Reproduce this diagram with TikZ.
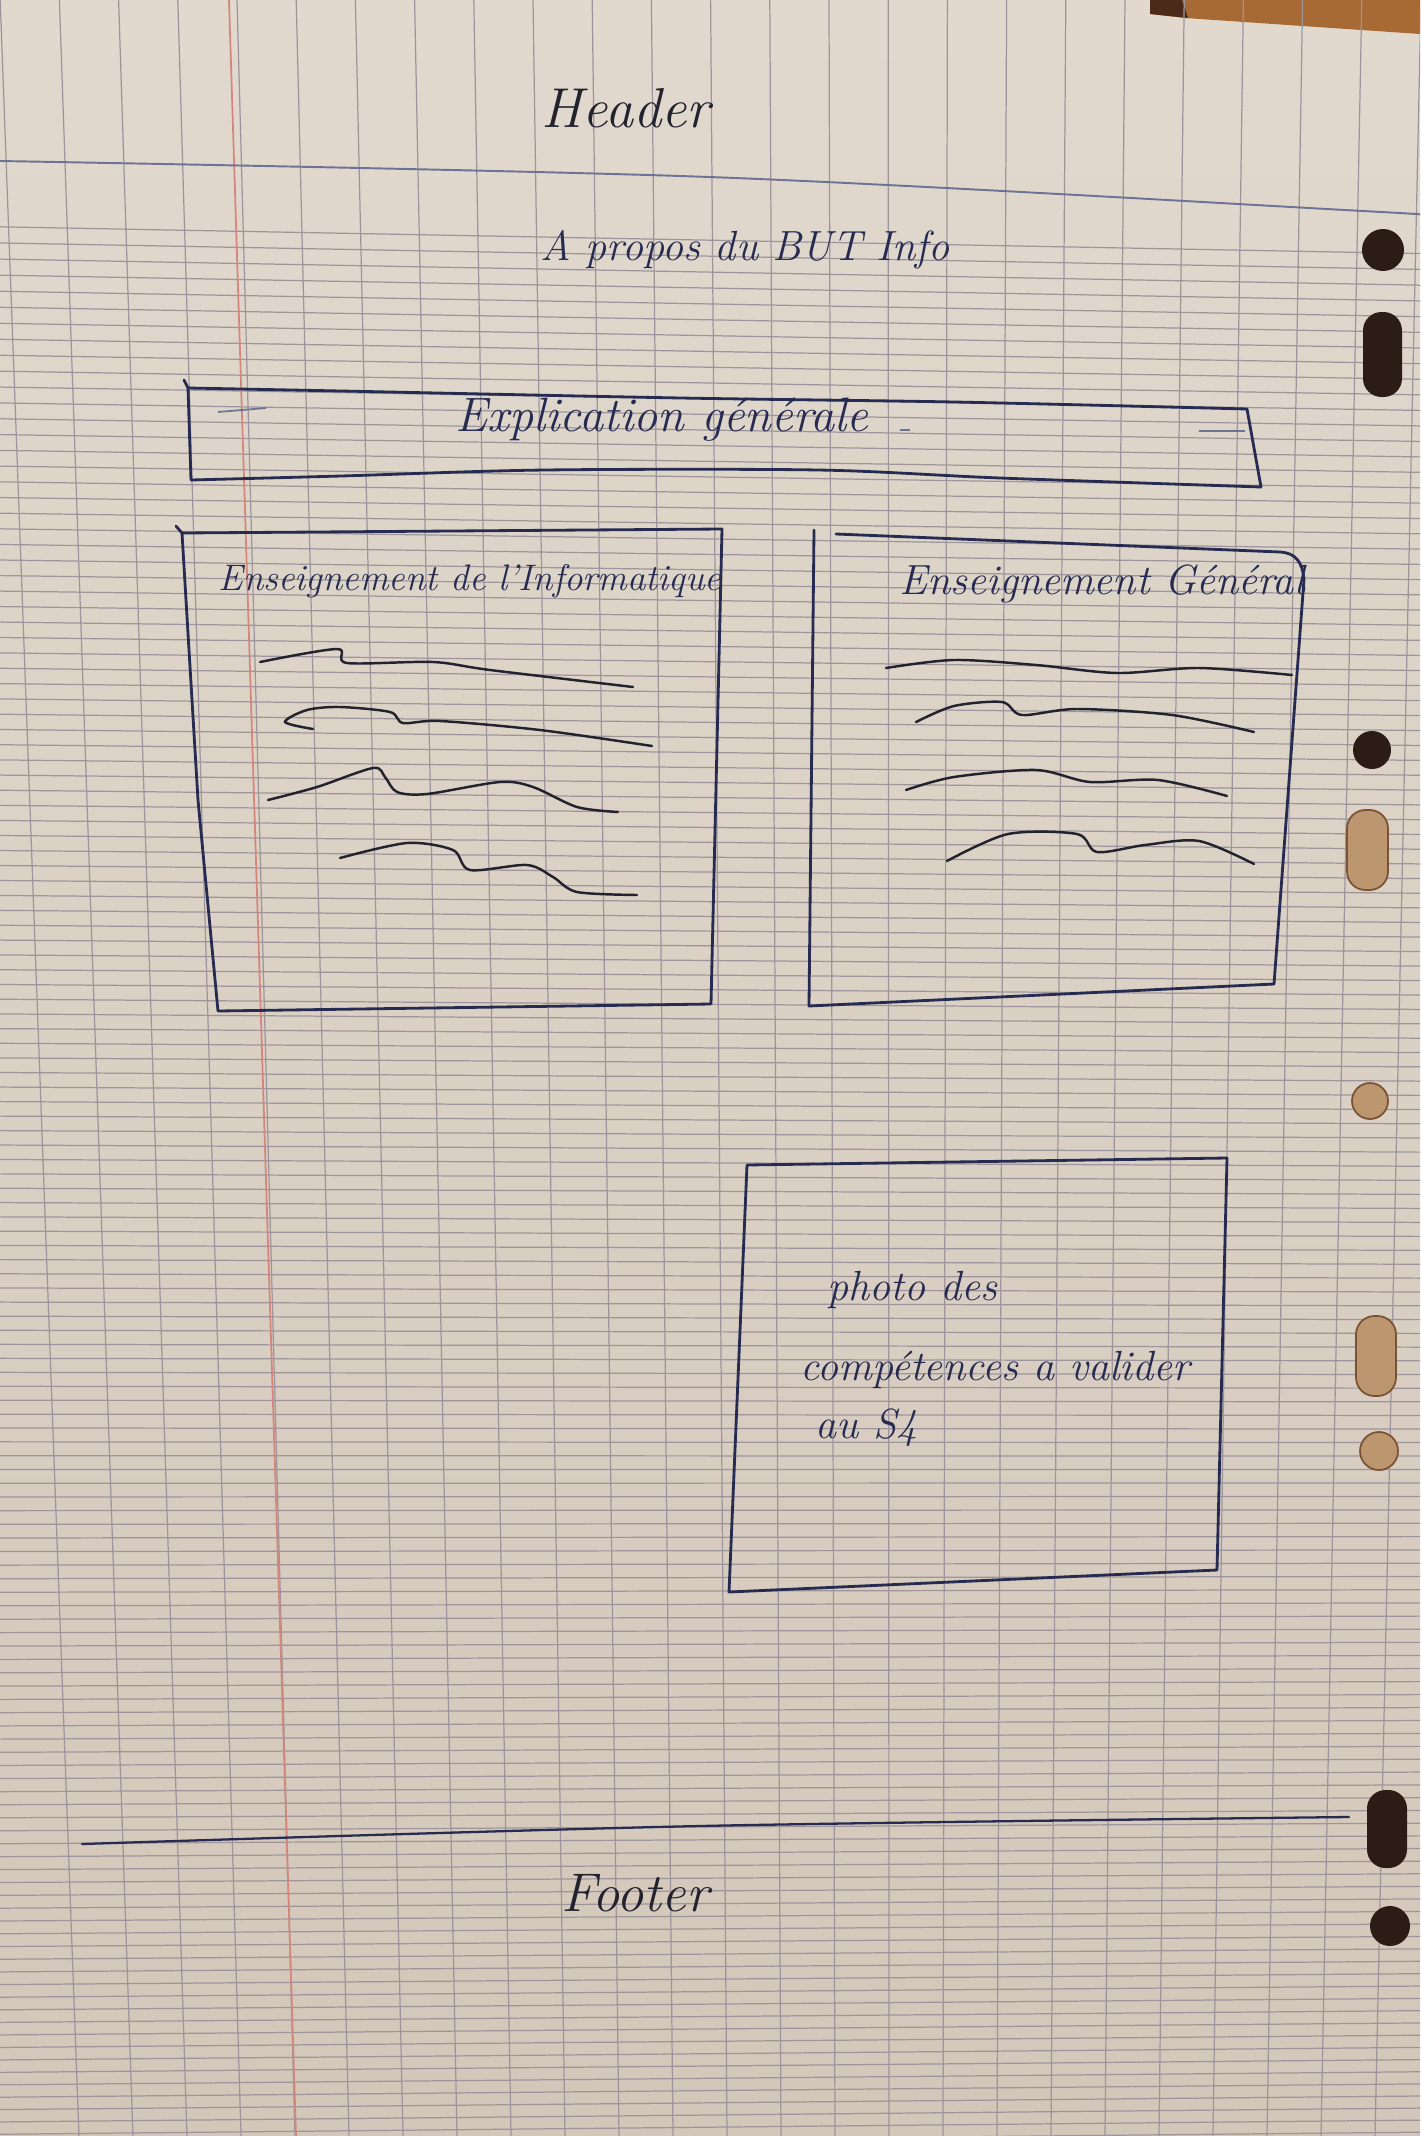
\documentclass[tikz,border=0pt]{standalone}
\usepackage{fontspec}
\definecolor{paperTop}{HTML}{E1D9CE}
\definecolor{paperBot}{HTML}{D3C7B9}
\definecolor{rule}{HTML}{9E959C}
\definecolor{margin}{HTML}{D4867C}
\definecolor{ink}{HTML}{262B52}
\definecolor{inkdark}{HTML}{22232F}
\definecolor{faint}{HTML}{6C7496}
\definecolor{wood}{HTML}{A86A35}
\definecolor{wooddark}{HTML}{4A2A18}
\definecolor{holedark}{HTML}{2B1D16}
\definecolor{holelight}{HTML}{BC966E}
\definecolor{holeshade}{HTML}{7A5234}
% pen-like lettering
\newcommand{\penfont}[1]{\fontsize{#1}{#1}\selectfont\itshape\addfontfeature{FakeBold=1.2}}
\begin{document}
\begin{tikzpicture}[x=0.02cm,y=-0.02cm,
  hand/.style={text=ink, inner sep=0pt},
  boxline/.style={draw=ink, line width=1.6pt, line join=round, line cap=round},
  scrib/.style={draw=inkdark, line width=1.4pt, line cap=round},
  gridline/.style={draw=rule, line width=0.7pt},
  holeD/.style={fill=holedark},
  holeL/.style={fill=holelight, draw=holeshade, line width=1pt},
  pill/.style={rounded corners=10.5pt}]

% sheet
\useasboundingbox (0,0) rectangle (1420,2136);
\clip (0,0) rectangle (1420,2136);
\shade[top color=paperTop, bottom color=paperBot] (0,0) rectangle (1420,2136);

% desk showing at the top right corner
\fill[wood] (1150,0) -- (1420,0) -- (1420,34) -- (1185,18) -- (1150,14) -- cycle;
\fill[wooddark] (1150,0) -- (1182,0) -- (1188,18) -- (1150,14) -- cycle;

% ruled lines (slightly in perspective)
\foreach \j in {0,...,137}{
  \pgfmathsetmacro{\yc}{240+16*\j-0.0143*\j*\j}
  \pgfmathsetmacro{\t}{0.019-0.0000195*(\yc-230)}
  \pgfmathsetmacro{\yl}{\yc-\t*700}
  \pgfmathsetmacro{\yr}{\yc+\t*720}
  \draw[gridline] (0,\yl) -- (1420,\yr);
}
\foreach \k in {-9,...,15}{
  \pgfmathsetmacro{\xt}{533+59.2*\k}
  \pgfmathsetmacro{\xb}{565+54*\k}
  \draw[gridline] (\xt,0) -- (\xb,2136);
}
% margin
\draw[margin, line width=1pt] (229,0) -- (296,2136);

% punched holes
\fill[holeD] (1383,250) circle (21);
\fill[holeD, pill] (1363,312) rectangle (1402,397);
\fill[holeD] (1372,750) circle (19);
\filldraw[holeL, pill] (1347,810) rectangle (1388,890);
\filldraw[holeL] (1370,1101) circle (18);
\filldraw[holeL, pill] (1356,1316) rectangle (1396,1396);
\filldraw[holeL] (1379,1451) circle (19);
\fill[holeD, pill] (1367,1790) rectangle (1407,1868);
\fill[holeD] (1390,1926) circle (20);

% header / footer separators
\draw[draw=faint, line width=1.1pt] plot[smooth] coordinates {(0,161) (709,177) (1363,211) (1420,215)};
\draw[boxline, line width=1.3pt] plot[smooth] coordinates {(82,1844) (700,1826) (1349,1817)};

% titles
\node[hand, text=inkdark, font=\penfont{32}] (header) at (626,108) {Header};
\node[hand, font=\penfont{24}] (title) at (745,250) {A propos du BUT Info};

% explication box
\draw[boxline] plot[smooth, tension=0.5] coordinates {(188,388) (341,391) (681,398) (954,402) (1247,409)}
  -- (1261,487);
\draw[boxline] plot[smooth, tension=0.5] coordinates {(1261,487) (1000,478) (818,470) (545,470) (341,476) (191,480)}
  -- (188,388) -- (184,380);
\draw[draw=faint, line width=1pt] (218,412) -- (266,408);
\draw[draw=faint, line width=1pt] (900,430) -- (910,430);
\draw[draw=faint, line width=1pt] (1199,431) -- (1245,431);
\node[hand, font=\penfont{27.5}] (expl) at (662,420) {Explication générale};

% left column box
\draw[boxline] (176,526) -- (182,533) -- (722,529) -- (711,1004) -- (218,1011)
  -- (198,800) -- (182,533);
\node[hand, font=\penfont{21}] (infoTitle) at (470,581) {Enseignement de l'Informatique};
\draw[scrib] plot[smooth, tension=0.5] coordinates {(260,662) (337,649) (347,663) (433,662) (490,670) (633,687)};
\draw[scrib] plot[smooth, tension=0.5] coordinates {(313,729) (285,722) (307,710) (340,707) (390,712) (403,723) (440,721) (540,730) (652,746)};
\draw[scrib] plot[smooth, tension=0.5] coordinates {(268,800) (317,787) (373,768) (385,777) (397,792) (427,794) (500,782) (533,787) (577,807) (618,812)};
\draw[scrib] plot[smooth, tension=0.5] coordinates {(340,858) (407,843) (453,850) (470,870) (527,865) (553,877) (577,892) (637,895)};

% right column box
\draw[boxline] (814,530) -- (809,1006) -- (1274,984) -- (1304,579)
  .. controls (1302,562) and (1296,553) .. (1280,552) -- (836,534);
\node[hand, font=\penfont{24}] (genTitle) at (1102,584) {Enseignement Général};
\draw[scrib] plot[smooth, tension=0.5] coordinates {(886,668) (954,660) (1036,665) (1117,673) (1199,668) (1292,675)};
\draw[scrib] plot[smooth, tension=0.5] coordinates {(916,722) (954,706) (1002,702) (1022,715) (1077,709) (1172,715) (1254,732)};
\draw[scrib] plot[smooth, tension=0.5] coordinates {(906,790) (954,777) (1036,770) (1090,782) (1158,780) (1227,796)};
\draw[scrib] plot[smooth, tension=0.5] coordinates {(947,861) (1008,834) (1077,834) (1097,852) (1145,845) (1199,841) (1254,864)};

% photo placeholder box
\draw[boxline] (747,1165) -- (1227,1158) -- (1217,1570) -- (729,1592) -- cycle;
\node[hand, anchor=base west, font=\penfont{24}] (photoA) at (827,1300) {photo des};
\node[hand, anchor=base west, font=\penfont{24}] (photoB) at (800,1380) {compétences a valider};
\node[hand, anchor=base west, font=\penfont{24}] (photoC) at (815,1438) {au S4};

% footer
\node[hand, text=inkdark, font=\penfont{31}] (footer) at (635,1893) {Footer};
\end{tikzpicture}
\end{document}
